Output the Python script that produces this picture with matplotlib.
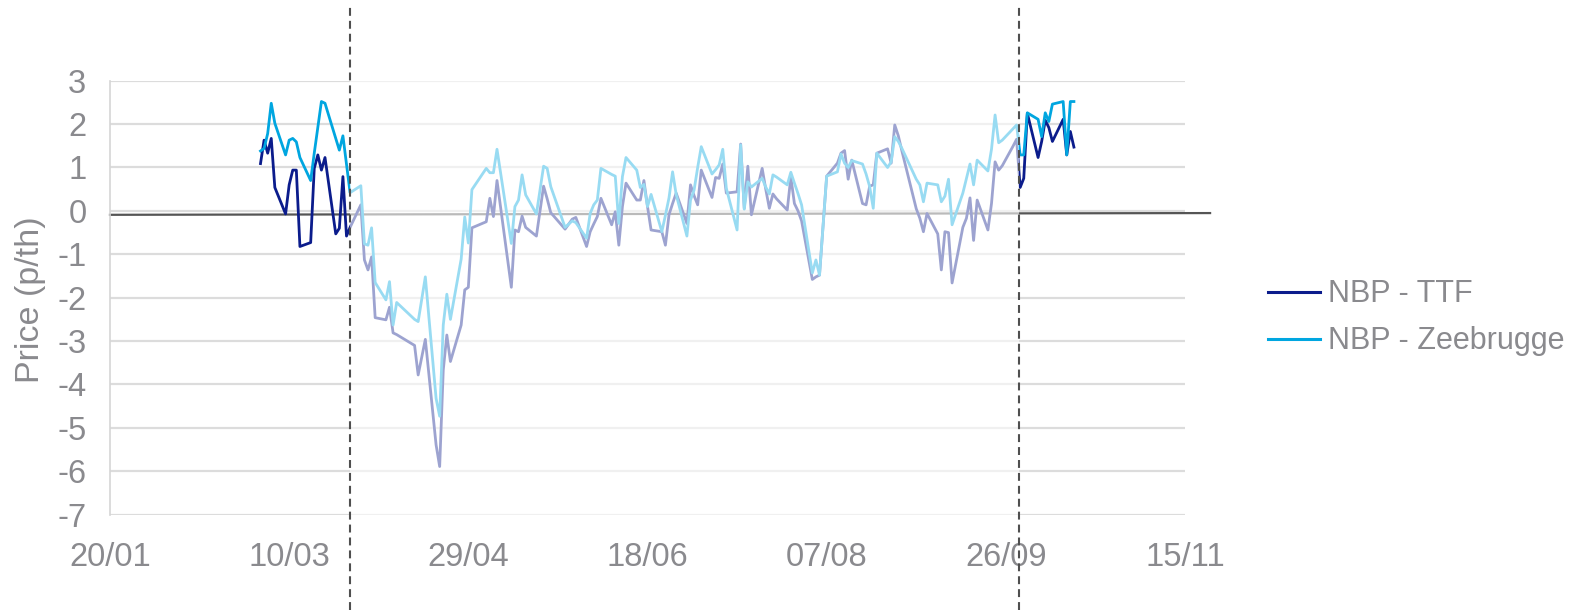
import matplotlib
matplotlib.use('Agg')
import matplotlib.pyplot as plt
import matplotlib.dates as mdates
import matplotlib.transforms as mtransforms
import pandas as pd

# --- data (p/th) ---
dates = [
    '2020-03-02', '2020-03-03', '2020-03-04', '2020-03-05', '2020-03-06',
    '2020-03-09', '2020-03-10', '2020-03-11', '2020-03-12', '2020-03-13',
    '2020-03-16', '2020-03-17', '2020-03-18', '2020-03-19', '2020-03-20',
    '2020-03-23', '2020-03-24', '2020-03-25', '2020-03-26', '2020-03-27',
    '2020-03-30', '2020-03-31', '2020-04-01', '2020-04-02', '2020-04-03',
    '2020-04-06', '2020-04-07', '2020-04-08', '2020-04-09',
    '2020-04-14', '2020-04-15', '2020-04-17',
    '2020-04-20', '2020-04-21', '2020-04-22', '2020-04-23', '2020-04-24',
    '2020-04-27', '2020-04-28', '2020-04-29', '2020-04-30',
    '2020-05-04', '2020-05-05', '2020-05-06', '2020-05-07',
    '2020-05-11', '2020-05-12', '2020-05-13', '2020-05-14', '2020-05-15',
    '2020-05-18', '2020-05-20', '2020-05-21', '2020-05-22',
    '2020-05-26', '2020-05-28', '2020-05-29',
    '2020-06-01', '2020-06-02', '2020-06-03', '2020-06-04', '2020-06-05',
    '2020-06-08', '2020-06-09', '2020-06-10', '2020-06-11', '2020-06-12',
    '2020-06-15', '2020-06-16', '2020-06-17', '2020-06-18', '2020-06-19',
    '2020-06-22', '2020-06-23', '2020-06-24', '2020-06-25', '2020-06-26',
    '2020-06-29', '2020-06-30', '2020-07-01', '2020-07-02', '2020-07-03',
    '2020-07-06', '2020-07-07', '2020-07-08', '2020-07-09', '2020-07-10',
    '2020-07-13', '2020-07-14', '2020-07-15', '2020-07-16', '2020-07-17',
    '2020-07-20', '2020-07-21', '2020-07-22', '2020-07-23', '2020-07-24',
    '2020-07-27', '2020-07-28', '2020-07-29', '2020-07-30', '2020-07-31',
    '2020-08-03', '2020-08-04', '2020-08-05', '2020-08-07',
    '2020-08-10', '2020-08-11', '2020-08-12', '2020-08-13', '2020-08-14',
    '2020-08-17', '2020-08-18', '2020-08-19', '2020-08-20', '2020-08-21',
    '2020-08-24', '2020-08-25', '2020-08-26', '2020-08-27', '2020-08-28',
    '2020-09-01', '2020-09-02', '2020-09-03', '2020-09-04',
    '2020-09-07', '2020-09-08', '2020-09-09', '2020-09-10', '2020-09-11',
    '2020-09-14', '2020-09-15', '2020-09-16', '2020-09-17', '2020-09-18',
    '2020-09-21', '2020-09-22', '2020-09-23', '2020-09-24', '2020-09-25',
    '2020-09-28', '2020-09-29', '2020-09-30', '2020-10-01', '2020-10-02',
    '2020-10-05', '2020-10-06', '2020-10-07', '2020-10-08', '2020-10-09',
    '2020-10-12', '2020-10-13', '2020-10-14', '2020-10-15',
]

nbp_ttf = [
    1.09, 1.63, 1.33, 1.67, 0.54,
    -0.07, 0.60, 0.94, 0.94, -0.82,
    -0.73, 0.98, 1.29, 0.94, 1.23,
    -0.53, -0.40, 0.79, -0.58, -0.38,
    0.14, -1.13, -1.36, -1.06, -2.46,
    -2.51, -2.22, -2.81, -2.85,
    -3.10, -3.78, -2.96,
    -5.39, -5.89, -3.67, -2.86, -3.47,
    -2.63, -1.82, -1.76, -0.39,
    -0.25, 0.29, -0.13, 0.70,
    -1.76, -0.44, -0.48, -0.12, -0.38,
    -0.58, 0.57, 0.28, -0.04,
    -0.42, -0.19, -0.15,
    -0.82, -0.48, -0.30, -0.13, 0.29,
    -0.32, -0.02, -0.79, 0.10, 0.64,
    0.25, 0.25, 0.70, 0.10, -0.44,
    -0.48, -0.79, -0.09, 0.17, 0.41,
    -0.29, 0.60, 0.35, 0.14, 0.94,
    0.31, 0.77, 0.75, 1.08, 0.41,
    0.44, 1.54, 0.06, 1.03, -0.09,
    0.98, 0.50, 0.06, 0.39, 0.28,
    0.02, 0.78, 0.17, 0.00, -0.23,
    -1.58, -1.52, -1.48, 0.80,
    1.10, 1.33, 1.39, 0.73, 1.17,
    0.17, 0.14, 0.57, 0.60, 1.33,
    1.43, 1.10, 1.98, 1.73, 1.38,
    0.05, -0.17, -0.48, -0.06,
    -0.53, -1.36, -0.48, -0.50, -1.66,
    -0.38, -0.17, 0.30, -0.68, 0.25,
    -0.44, 0.17, 1.13, 0.94, 1.04,
    1.49, 1.65, 0.54, 0.75, 2.25,
    1.23, 1.60, 2.09, 1.92, 1.60,
    2.11, 1.29, 1.83, 1.47,
]

nbp_zeebrugge = [
    1.38, 1.44, 1.78, 2.48, 2.02,
    1.29, 1.63, 1.67, 1.59, 1.23,
    0.70, 1.33, 1.93, 2.52, 2.48,
    1.67, 1.40, 1.73, 1.07, 0.42,
    0.58, -0.76, -0.79, -0.39, -1.65,
    -2.05, -1.63, -2.63, -2.11,
    -2.50, -2.55, -1.52,
    -4.32, -4.73, -2.63, -1.92, -2.50,
    -1.11, -0.14, -0.74, 0.49,
    0.98, 0.88, 0.88, 1.42,
    -0.75, 0.10, 0.25, 0.83, 0.37,
    -0.07, 1.03, 0.98, 0.56,
    -0.38, -0.23, -0.27,
    -0.63, -0.06, 0.14, 0.25, 0.98,
    0.84, 0.80, -0.29, 0.79, 1.23,
    0.94, 0.54, 0.61, 0.10, 0.38,
    -0.48, -0.10, 0.30, 0.90, 0.38,
    -0.58, 0.25, 0.48, 1.00, 1.48,
    0.85, 0.95, 1.06, 1.42, 0.52,
    -0.44, 1.52, 0.04, 0.67, 0.55,
    0.75, 0.55, 0.39, 0.83, 0.78,
    0.60, 0.89, 0.64, 0.40, 0.14,
    -1.43, -1.13, -1.48, 0.80,
    0.90, 1.31, 1.10, 1.00, 1.16,
    1.08, 0.85, 0.56, 0.06, 1.33,
    1.00, 1.13, 1.71, 1.60, 1.44,
    0.73, 0.60, 0.21, 0.64,
    0.60, 0.21, 0.34, 0.73, -0.32,
    0.41, 0.75, 1.08, 0.60, 1.17,
    0.92, 1.42, 2.21, 1.57, 1.63,
    1.89, 1.98, 1.29, 1.29, 2.26,
    2.11, 1.71, 2.26, 2.06, 2.46,
    2.52, 1.29, 2.52, 2.52,
]

series_names = ['NBP - TTF', 'NBP - Zeebrugge']
series_colors = ['#0B1C8C', '#00A6E0']
tick_dates = ['2020-01-20', '2020-03-10', '2020-04-29', '2020-06-18',
              '2020-08-07', '2020-09-26', '2020-11-15']
y_ticks = list(range(-7, 4))
x_range = ('2020-01-20', '2020-11-15')
faded_period = ('2020-03-27 00:00', '2020-09-29 17:00')
base_line_x = ('2020-01-20', '2020-11-22')
base_line_y = (-0.09, -0.05)

text_grey = '#8A8A8E'

plt.rcParams['font.family'] = ['Liberation Sans', 'DejaVu Sans']
plt.rcParams['axes.unicode_minus'] = False

x = pd.to_datetime(dates)

fig = plt.figure(figsize=(15.81, 6.10), dpi=100)
ax = fig.add_axes([110 / 1581, 95.3 / 610, 1075 / 1581, 434 / 610])

for vals, name, col in zip([nbp_ttf, nbp_zeebrugge], series_names, series_colors):
    ax.plot(x, vals, color=col, lw=2.0, label=name, zorder=3)

# dark base line slightly below zero, running past the plot area
ax.plot(pd.to_datetime(list(base_line_x)), base_line_y, color='#555555',
        lw=1.6, zorder=2, clip_on=False)

# white veil over the middle period
ax.axvspan(pd.Timestamp(faded_period[0]), pd.Timestamp(faded_period[1]),
           color='white', alpha=0.6, lw=0, zorder=4)

# dashed dividers across the whole figure height
trans = mtransforms.blended_transform_factory(ax.transData, ax.transAxes)
for d in faded_period:
    xd = mdates.date2num(pd.Timestamp(d))
    ax.plot([xd, xd], [-0.22, 1.175], transform=trans, color='#4F4F4F',
            lw=1.5, dashes=(3.8, 2.4), clip_on=False, zorder=6)

ax.set_xlim(pd.Timestamp(x_range[0]), pd.Timestamp(x_range[1]))
ax.set_ylim(-7, 3)
ax.set_xticks(pd.to_datetime(tick_dates))
ax.xaxis.set_major_formatter(mdates.DateFormatter('%d/%m'))
ax.set_yticks(y_ticks)

ax.grid(axis='y', color='#DCDCDC', lw=1.6, zorder=0)
ax.set_axisbelow(True)
for s in ['top', 'right', 'bottom']:
    ax.spines[s].set_visible(False)
ax.spines['left'].set_color('#D5D5D5')
ax.spines['left'].set_linewidth(1.2)

ax.tick_params(axis='both', length=0, colors=text_grey, labelsize=23.5)
ax.tick_params(axis='x', pad=20)
ax.tick_params(axis='y', pad=17)

ax.set_ylabel('Price (p/th)', fontsize=24.5, color=text_grey)
ax.yaxis.set_label_coords(-0.0595, 0.495)

leg = ax.legend(loc='center left', bbox_to_anchor=(1268 / 1581, 0.479),
                bbox_transform=fig.transFigure, frameon=False, fontsize=22,
                labelcolor=text_grey, handlelength=1.7, handletextpad=0.25,
                borderpad=0, borderaxespad=0, labelspacing=0.55)
for line in leg.get_lines():
    line.set_linewidth(2.2)

fig.savefig('out.png', dpi=100)
